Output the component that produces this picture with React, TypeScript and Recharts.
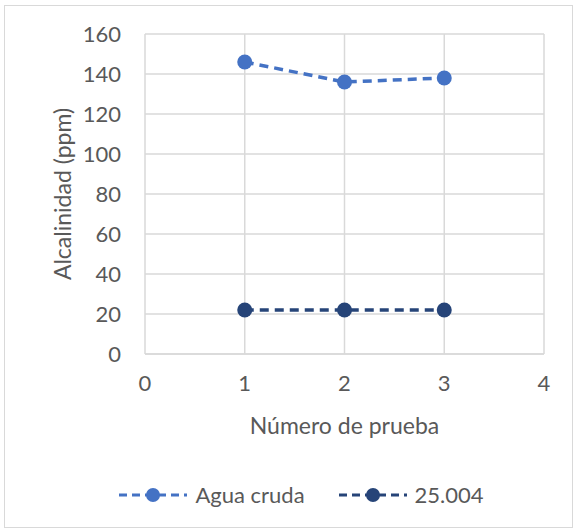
import { LineChart, Line, XAxis, YAxis, CartesianGrid, Legend } from 'recharts';

const pruebas = [1, 2, 3];
const aguaCruda = [146, 136, 138];
const muestra25004 = [22, 22, 22];
const xTicks = [0, 1, 2, 3, 4];
const yTicks = [0, 20, 40, 60, 80, 100, 120, 140, 160];

const data = pruebas.map((p, i) => ({
  prueba: p,
  agua: aguaCruda[i],
  muestra: muestra25004[i],
}));

const series = [
  { key: 'agua', name: 'Agua cruda', color: '#4472C4' },
  { key: 'muestra', name: '25.004', color: '#264478' },
];

const FONT = 'Lato, "Open Sans", sans-serif';
const TEXT = '#595959';

function LegendContent() {
  return (
    <div style={{ display: 'flex', justifyContent: 'center', alignItems: 'center', gap: 32, fontFamily: FONT, fontSize: 22, color: TEXT }}>
      {series.map((s) => (
        <div key={s.key} style={{ display: 'flex', alignItems: 'center' }}>
          <svg width={72} height={20}>
            <line x1={2} y1={10} x2={70} y2={10} stroke={s.color} strokeWidth={3} strokeDasharray="8 5" />
            <circle cx={36} cy={10} r={7} fill={s.color} />
          </svg>
          <span style={{ marginLeft: 6 }}>{s.name}</span>
        </div>
      ))}
    </div>
  );
}

export default function App() {
  return (
    <div style={{ position: 'absolute', left: 0, top: 0, width: 577, height: 532, background: '#fff' }}>
      <div style={{ position: 'absolute', left: 4, top: 5, width: 567, height: 521, border: '1px solid #d9d9d9' }} />
      <div style={{ position: 'absolute', left: 0, top: 0 }}>
        <LineChart
          width={577}
          height={532}
          data={data}
          margin={{ top: 34, right: 33, left: 0, bottom: 98 }}
        >
          <CartesianGrid stroke="#d9d9d9" strokeWidth={1.5} vertical={true} horizontal={true} />
          <XAxis
            type="number"
            dataKey="prueba"
            domain={[0, 4]}
            ticks={xTicks}
            axisLine={{ stroke: '#d9d9d9', strokeWidth: 1.5 }}
            tickLine={false}
            tick={{ fill: TEXT, fontSize: 22, fontFamily: FONT }}
            tickMargin={15}
            height={80}
            label={{ value: 'Número de prueba', position: 'insideBottom', offset: 0, fill: TEXT, fontSize: 23, fontFamily: FONT }}
          />
          <YAxis
            type="number"
            domain={[0, 160]}
            ticks={yTicks}
            axisLine={false}
            tickLine={false}
            tick={{ fill: TEXT, fontSize: 22, fontFamily: FONT }}
            tickMargin={18}
            width={145}
            label={{ value: 'Alcalinidad (ppm)', angle: -90, position: 'insideLeft', offset: 63, fill: TEXT, fontSize: 23, fontFamily: FONT, style: { textAnchor: 'middle' } }}
          />
          <Legend
            verticalAlign="middle"
            align="center"
            content={<LegendContent />}
            wrapperStyle={{ top: 481, left: 12, width: 577 }}
          />
          {series.map((s) => (
            <Line
              key={s.key}
              type="linear"
              dataKey={s.key}
              name={s.name}
              stroke={s.color}
              strokeWidth={3.5}
              strokeDasharray="9 6"
              dot={{ r: 7.5, fill: s.color, stroke: s.color, strokeWidth: 0, strokeDasharray: '' }}
              activeDot={false}
              isAnimationActive={false}
            />
          ))}
        </LineChart>
      </div>
    </div>
  );
}
